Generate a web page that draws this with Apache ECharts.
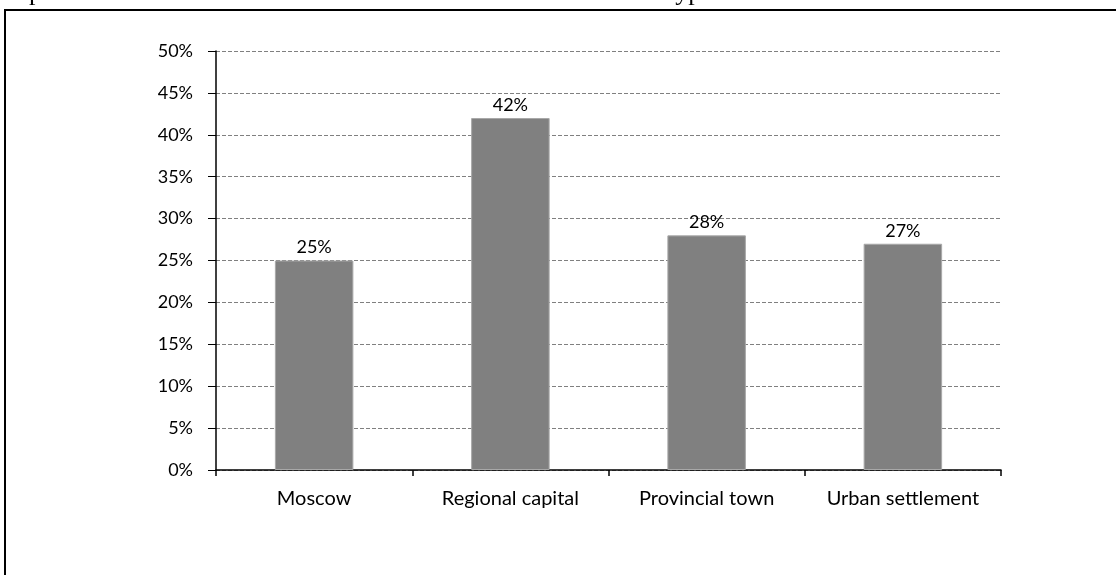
<!DOCTYPE html>
<html>
<head>
<meta charset="utf-8">
<style>html,body{margin:0;padding:0;background:#fff;}#chart{width:1116px;height:575px;}</style>
<script src="https://cdn.jsdelivr.net/npm/echarts@6/dist/echarts.min.js"></script>
</head>
<body>
<div id="chart"></div>
<script>
const categories = ['Moscow', 'Regional capital', 'Provincial town', 'Urban settlement'];
const values = [25, 42, 28, 27];
const titleText = 'Report of the association in the bodies of settlements of various types';

const chart = echarts.init(document.getElementById('chart'), null, {renderer: 'canvas'});
const font = 'Lato, "Open Sans", sans-serif';
chart.setOption({
  animation: false,
  backgroundColor: '#fff',
  graphic: [
    {type: 'rect', shape: {x: 5, y: 10, width: 1200, height: 700}, style: {fill: 'none', stroke: '#000', lineWidth: 2}},
    {type: 'text', left: 0, top: -20, style: {text: titleText, font: '26px "Liberation Serif", "Times New Roman", serif', fill: '#000'}}
  ],
  grid: {left: 216, right: 115, top: 51, bottom: 105, containLabel: false},
  xAxis: {
    type: 'category', data: categories,
    axisLine: {lineStyle: {color: '#000', width: 1.5}},
    axisTick: {show: true, interval: 0, length: 6, lineStyle: {color: '#000', width: 1.5}},
    axisLabel: {interval: 0, hideOverlap: false, color: '#000', fontFamily: font, fontSize: 20, margin: 19}
  },
  yAxis: {
    type: 'value', min: 0, max: 50, interval: 5,
    axisLine: {show: true, lineStyle: {color: '#000', width: 1.5}},
    axisTick: {show: true, length: 8, lineStyle: {color: '#000', width: 1}},
    axisLabel: {color: '#000', fontFamily: font, fontSize: 18, margin: 23, formatter: '{value}%'},
    splitLine: {show: true, lineStyle: {color: '#808080', type: [4, 2], width: 1}}
  },
  series: [{
    type: 'bar', data: values, barWidth: '40%',
    itemStyle: {color: '#808080', borderColor: '#a8a8a8', borderWidth: 1},
    label: {show: true, position: 'top', distance: 4, formatter: '{c}%', color: '#000', fontFamily: font, fontSize: 18}
  }]
});
</script>
</body>
</html>
